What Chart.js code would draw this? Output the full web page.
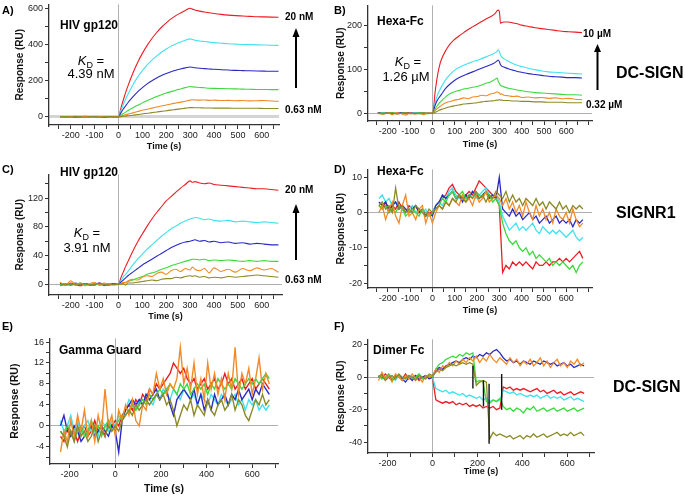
<!DOCTYPE html>
<html>
<head>
<meta charset="utf-8">
<script src="https://cdn.jsdelivr.net/npm/chart.js@4.4.1/dist/chart.umd.min.js"></script>
<style>
  html, body { margin: 0; padding: 0; background: #fff; }
  #wrap { position: relative; width: 685px; height: 497px; overflow: hidden; }
  #wrap canvas { position: absolute; }
  #notes { position: absolute; left: 0; top: 0; }
</style>
</head>
<body>
<div id="wrap">
<svg id="notes" width="685" height="497" font-family="'Liberation Sans', Arial, sans-serif" fill="#000">
  <g font-weight="bold" font-size="11">
    <text x="2" y="14">A)</text>
    <text x="334" y="14">B)</text>
    <text x="2" y="173">C)</text>
    <text x="334" y="173">D)</text>
    <text x="2" y="330">E)</text>
    <text x="334" y="330">F)</text>
  </g>
  <g font-weight="bold" font-size="12">
    <text x="60" y="29">HIV gp120</text>
    <text x="377" y="25">Hexa-Fc</text>
    <text x="60" y="176">HIV gp120</text>
    <text x="377" y="175">Hexa-Fc</text>
    <text x="59" y="354">Gamma Guard</text>
    <text x="373" y="354">Dimer Fc</text>
  </g>
  <g font-size="13" text-anchor="middle" style="white-space:pre">
    <text x="91" y="65"><tspan font-style="italic">K</tspan><tspan font-size="9" dy="3">D</tspan><tspan dy="-3"> =</tspan></text>
    <text x="91" y="78">4.39  nM</text>
    <text x="408" y="66"><tspan font-style="italic">K</tspan><tspan font-size="9" dy="3">D</tspan><tspan dy="-3"> =</tspan></text>
    <text x="406" y="81">1.26 µM</text>
    <text x="87" y="237"><tspan font-style="italic">K</tspan><tspan font-size="9" dy="3">D</tspan><tspan dy="-3"> =</tspan></text>
    <text x="87" y="252">3.91  nM</text>
  </g>
  <g font-weight="bold" font-size="10">
    <text x="285" y="20">20 nM</text>
    <text x="285" y="113">0.63 nM</text>
    <text x="583" y="37">10 µM</text>
    <text x="586" y="108">0.32 µM</text>
    <text x="285" y="193">20 nM</text>
    <text x="285" y="283">0.63 nM</text>
  </g>
  <g font-weight="bold" font-size="16">
    <text x="616" y="78">DC-SIGN</text>
    <text x="616" y="218">SIGNR1</text>
    <text x="613" y="392">DC-SIGN</text>
  </g>
  <g stroke="#000" stroke-width="2">
    <line x1="296" y1="88" x2="296" y2="36"/>
    <line x1="597.5" y1="90" x2="597.5" y2="51"/>
    <line x1="296" y1="260" x2="296" y2="212"/>
  </g>
  <polygon points="292.5,37 299.5,37 296,28"/>
  <polygon points="594,52 601,52 597.5,44"/>
  <polygon points="292.5,213 299.5,213 296,204"/>
</svg>
</div>
<script>
/* ––––– time axes ––––– */
const tAC = [-245,-220,-200,-180,-160,-140,-120,-100,-80,-60,-40,-20,0,
  10,20,30,40, 60,80,100,120,140,160,180,200,220,240,260,280,300,
  310,320, 340,360,380,400, 430,460,490,520,550,580,610,640,670];
const tB = [-245,-220,-200,-180,-160,-140,-120,-100,-80,-60,-40,-20,0,
  5,10,20,30,40, 60,80,100,120,140,160,180,200,220,240,260,280,
  290,295,300,305,310,320, 340,360,380,400, 430,460,490,520,550,580,610,640,670];
const tN = [-240,-225,-210,-195,-180,-165,-150,-135,-120,-105,-90,-75,-60,-45,-30,-15,
  0,15,30,45,60,75,90,105,120,135,150,165,180,195,210,225,240,255,270,285,
  300,315,330,345,360,375,390,405,420,435,450,465,480,495,510,525,540,555,570,585,600,
  615,630,645,660,675];

/* ––––– A) HIV gp120 on DC-SIGN ––––– */
const aRed    = [1,-2,2,0,-1,3,1,-1,2,0,-2,1,0, 48,93,135,172, 240,300,350,394,432,465,494,518,540,558,573,587,599, 594,589, 583,578,574,570, 565,561,558,556,554,552,551,550,549];
const aCyan   = [0,2,-1,1,3,0,-2,1,0,2,-1,0,0, 35,68,98,126, 176,219,255,287,313,336,356,374,390,402,413,422,430, 426,422, 418,415,412,409, 406,403,401,399,398,397,396,395,394];
const aBlue   = [2,0,1,-1,0,2,-1,1,0,-2,1,0,0, 22,43,61,79, 110,138,161,182,199,214,228,239,249,257,264,270,275, 273,271, 268,266,264,262, 260,258,256,255,254,253,252,251,251];
const aGreen  = [-1,1,0,2,-1,0,1,-1,0,1,0,-1,0, 9,18,26,35, 50,64,77,90,101,112,122,131,139,147,154,161,167, 165,164, 162,160,158,157, 156,155,154,153,152,151,151,150,150];
const aOrange = [0,-2,1,3,-1,2,0,-3,1,2,-1,1,0, 4,8,12,15, 22,29,36,42,48,54,60,65,71,76,81,86,92, 94,93, 92,93,91,92, 90,91,89,90,88,89,90,87,85];
const aOlive  = [1,0,-1,1,0,-2,1,0,-1,0,2,0,0, 1,3,4,6, 9,13,16,20,23,27,30,34,37,41,44,48,51, 51,50, 50,49,49,48, 48,48,47,47,47,47,46,46,46];

/* ––––– B) Hexa-Fc on DC-SIGN ––––– */
const bRed    = [1,0,2,-1,1,0,2,1,-1,0,1,0,0, 10,40,78,105,122, 143,158,168,176,183,190,196,202,208,214,219,226, 233,234,230,204,206,207, 207,205,203,200, 197,194,192,190,188,186,185,184,183];
const bCyan   = [0,1,-1,2,0,1,-1,0,2,-1,0,1,0, 5,20,38,50,60, 77,89,98,104,109,113,117,120,124,128,132,137, 141,144,140,132,128,124, 118,113,109,106, 102,99,96,94,93,92,91,90,89];
const bBlue   = [2,0,1,-1,0,2,-1,1,0,1,-1,0,0, 4,15,28,36,43, 57,67,75,81,86,90,94,98,102,106,110,115, 119,121,117,110,107,105, 101,98,95,93, 90,88,86,84,83,82,81,81,80];
const bGreen  = [-1,1,0,2,-1,0,1,-1,0,1,0,-1,0, 2,8,16,23,28, 38,45,49,52,55,57,59,61,64,68,71,77, 80,72,68,63,62,60, 57,55,53,51, 49,47,46,45,44,43,42,42,41];
const bOrange = [0,-2,1,-3,2,-1,-4,1,-2,0,-3,1,0, 1,5,10,14,18, 24,27,30,32,35,33,37,38,41,40,44,46, 49,47,46,43,44,41, 40,38,39,36, 37,35,36,34,35,33,34,32,31];
const bOlive  = [1,-1,0,1,-2,0,1,-1,0,-1,1,0,0, 0,2,4,7,9, 12,15,17,19,21,22,23,24,26,27,28,29, 30,30,31,30,30,29, 29,28,28,27, 27,26,26,25,25,25,24,24,24];

/* ––––– C) HIV gp120 on SIGNR1 ––––– */
const cRed    = [1,-1,2,0,-2,1,0,-1,2,0,-1,1,0, 9,17,25,32, 46,59,70,81,91,100,108,116,122,128,134,139,144, 142,143, 141,140,141,139, 138,137,136,135,134,133,133,132,131];
const cCyan   = [-2,0,1,-1,2,0,-1,1,0,-2,1,0,0, 5,10,14,18, 27,35,42,49,55,61,67,72,77,81,85,88,91, 92,93, 92,90,91,89, 88,89,87,88,87,86,87,86,85];
const cBlue   = [1,0,-1,2,0,1,-1,0,2,-1,0,1,0, 3,6,9,12, 17,22,27,31,35,39,43,47,51,54,57,59,60, 61,62, 60,61,59,60, 58,59,57,58,56,57,56,55,55];
const cGreen  = [0,1,-1,0,2,-1,0,1,-1,0,1,0,0, 1,2,3,4, 6,9,11,14,16,18,21,23,26,28,30,32,34, 35,35, 34,35,33,34, 33,34,33,32,33,32,33,32,32];
const cOrange = [3,-1,5,0,2,-2,1,3,-1,2,0,-1,0, 1,3,2,5, 7,6,10,12,11,15,17,14,19,21,18,22,20, 24,21, 19,22,16,23, 18,21,17,22,19,23,20,22,17];
const cOlive  = [-2,0,1,-1,0,1,-1,0,1,0,-1,0,0, 0,1,-1,2, 2,3,4,5,6,5,7,8,8,10,9,11,12, 11,12, 10,11,9,10, 9,11,10,11,12,13,12,11,10];

/* ––––– D) Hexa-Fc on SIGNR1 (tN) ––––– */
const dRed    = [2,1,3,0,2,1,3,1,0,2,1,2,0,1,-1,0, 0, 2,3,4,5,7,8,6,5,4,5,6,5,7,9,8,7,6,5,4, 2,
  -17,-15,-16,-14,-15,-14,-15,-14,-15,-16,-14,-15,-15,-14,-15,-14,-14,-13,-14,-13,-14,-13,-12,-11,-13];
const dCyan   = [4,5,3,4,2,3,1,2,0,1,2,0,1,0,1,-1, 0, 2,3,2,4,6,7,5,4,5,4,5,6,4,5,6,7,5,4,5, 3,
  -1,-3,-5,-4,-3,-5,-4,-5,-4,-3,-5,-6,-4,-5,-6,-5,-6,-5,-6,-7,-6,-5,-7,-8,-7];
const dBlue   = [3,2,3,1,2,3,1,2,1,0,1,2,0,1,-1,0, -1, 2,3,5,4,5,6,4,5,3,5,4,6,5,4,5,6,4,5,4, 10,
  1,0,-1,1,-1,0,-2,-1,0,-2,-1,-3,-2,-1,-3,-2,-1,-3,-2,-3,-2,-4,-2,-3,-2];
const dGreen  = [2,1,2,0,1,0,2,1,-1,0,1,0,-1,1,0,-1, 0, 1,2,4,3,5,6,4,5,6,4,5,4,6,5,4,6,5,3,4, 2,
  -3,-6,-8,-9,-8,-10,-11,-10,-12,-11,-13,-12,-13,-14,-13,-15,-14,-15,-14,-15,-16,-15,-17,-15,-14];
const dOrange = [0,2,-2,1,3,-1,-3,2,5,-1,0,-2,1,2,-3,0, -3, 0,2,1,3,2,4,3,2,5,3,4,2,5,3,4,6,3,4,5, 4,
  2,4,1,3,0,2,-1,3,0,-2,2,-1,1,-2,0,-3,1,-1,-2,0,-3,1,-2,-4,-3];
const dOlive  = [2,3,1,2,0,7,1,2,0,1,0,2,1,0,-1,1, 0, 1,2,1,3,2,4,3,5,4,3,5,4,6,4,5,3,5,4,6, 5,
  4,6,3,5,3,4,2,4,3,2,4,2,3,1,3,2,1,3,1,2,0,2,1,2,1];

/* ––––– E) Gamma Guard on DC-SIGN (tN) ––––– */
const eRed    = [-2,-3,0,-2,-1,-3,-1,0,-2,-1,1,-1,0,-2,1,0, 1, 0,2,3,4,3,5,4,6,5,7,6,8,7,8,9,10,12,11,10, 11,
  9,8,9,7,8,9,7,8,9,7,8,10,8,9,7,8,9,7,8,9,7,8,9,8,7];
const eBlue   = [0,2,-1,-2,0,-1,-3,-2,-1,0,-2,-1,0,-1,-2,0, -1, -5,1,3,4,5,4,5,4,6,5,6,7,5,6,7,4,2,5,6, 7,
  6,5,7,4,6,3,5,3,6,4,5,6,4,6,5,7,5,6,7,5,7,6,8,7,6];
const eCyan   = [1,-1,0,2,-1,1,-2,0,1,-1,0,-2,1,0,-1,1, 0, 2,1,3,5,4,3,5,4,6,5,4,6,5,7,6,5,7,6,5, 7,
  6,5,6,4,6,5,4,6,5,4,6,5,4,5,6,4,5,3,5,4,5,3,4,3,4];
const eGreen  = [-1,-2,0,-1,-3,-1,0,-2,-1,1,-1,0,-2,0,1,-1, 0, 1,2,2,3,4,3,4,5,4,6,5,6,7,6,7,8,7,6,8, 7,
  8,6,7,8,7,8,6,8,7,9,8,7,8,7,9,8,7,8,9,8,9,8,9,10,9];
const eOrange = [-5,-1,-3,1,-2,2,-1,3,-2,1,-3,2,-1,7,0,2, -2, 3,1,4,2,5,1,0,4,3,7,6,10,7,9,6,8,7,9,15, 8,
  11,7,12,6,9,5,12,7,10,6,9,5,10,7,15,6,10,8,11,6,9,13,7,10,8];
const eOlive  = [-1,-2,-4,-1,-3,0,-2,-1,-3,-2,0,-3,-1,-2,0,-1, 0, -1,1,2,3,2,4,3,4,5,4,5,6,5,6,4,5,3,0,2, 4,
  3,5,2,4,3,2,5,3,2,4,5,3,4,6,3,5,4,2,1,3,5,4,6,4,5];

/* ––––– F) Dimer Fc on DC-SIGN (tN) ––––– */
const fBlue   = [0,2,-1,1,-2,0,1,-1,-3,0,-2,1,-1,0,1,-1, 0, 4,6,5,7,8,9,10,9,11,12,11,13,12,14,13,15,14,16,17, 15,
  12,10,11,9,10,8,10,9,8,10,9,8,10,9,8,9,7,8,9,7,8,6,7,8,7];
const fOrange = [-2,3,-1,1,-3,2,0,-2,1,-1,2,-1,0,-3,1,0, 1, 5,3,7,6,9,7,10,8,11,9,12,10,13,9,12,10,14,11,9, 12,
  10,8,12,9,11,7,10,8,11,7,9,12,7,10,6,9,11,7,9,6,10,8,11,7,9];
const fGreen  = [1,-1,0,2,-1,0,1,-2,0,1,-1,0,2,-1,0,1, 0, 5,8,9,11,12,13,12,14,13,15,14,15,-3,-2,-3,-15,-16,-14,-15, -13,
  -18,-20,-19,-21,-19,-20,-22,-19,-20,-18,-21,-20,-19,-21,-20,-19,-21,-20,-19,-21,-20,-19,-21,-20,-19];
const fOlive  = [0,1,-2,0,1,-1,2,0,-1,1,0,-2,1,0,-1,2, 1, 3,5,4,6,7,8,7,8,9,8,9,8,-5,-3,-2,-3,-38,-34,-36, -35,
  -36,-37,-36,-38,-37,-36,-38,-36,-37,-35,-37,-36,-35,-37,-36,-35,-34,-36,-35,-36,-34,-36,-35,-34,-36];
const fRed    = [1,-1,2,0,-2,1,0,-1,2,-1,0,1,-2,0,1,-1, 0, -14,-15,-16,-15,-16,-15,-17,-16,-17,-16,-18,-17,-18,-17,-19,-18,-19,-18,-20, -19,
  -6,-7,-6,-8,-7,-8,-7,-8,-9,-8,-7,-9,-8,-10,-9,-8,-10,-9,-11,-10,-9,-11,-10,-9,-10];
const fCyan   = [0,1,-1,2,0,-2,1,0,-1,1,0,-1,2,0,-1,1, 0, -7,-8,-9,-8,-10,-9,-10,-11,-10,-12,-11,-12,-13,-12,-14,-13,-15,-14,-15, -14,
  -8,-9,-10,-9,-11,-10,-11,-12,-11,-12,-11,-13,-12,-11,-13,-12,-13,-12,-14,-13,-12,-14,-13,-14,-15];
// injection artefacts, drawn black
const fSpikeT = [180,180,181, 227,227,228, 252,252,253, 308,308];
const fSpikeY = [7,-7,null, -2,-18,null, -4,-41,null, -20,2];

/* ––––– styling ––––– */
const FONT = "'Liberation Sans', Arial, sans-serif";
const COLS = ['#8c8a24','#f28a26','#3bd93b','#2a2ac6','#40e2ef','#ec1c24'];  // olive, orange, green, blue, cyan, red

const panels = [
  {L:49, T:3,   R:279, B:125, xMin:-291, xMax:672, yMin:-45,  yMax:620,  xStep:50,  xLab:100, yStep:100, yLab:200,
   yTitleX:20,  xTitleY:147,   t:tAC, smooth:true,  zeroW:3, zeroC:'#d4d4d4', lw:1.1, xts:9, yts:10,
   series:[aOlive,aOrange,aGreen,aBlue,aCyan,aRed]},
  {L:368, T:4,  R:592, B:121, xMin:-289, xMax:715, yMin:-17.4, yMax:244.7, xStep:50, xLab:100, yStep:50, yLab:100,
   yTitleX:341, xTitleY:144.5, t:tB,  smooth:true,  zeroW:1, zeroC:'#b0b0b0', lw:1.1, xts:9, yts:10,
   series:[bOlive,bOrange,bGreen,bBlue,bCyan,bRed]},
  {L:49, T:173, R:282, B:295, xMin:-291, xMax:685, yMin:-14.8, yMax:153,  xStep:50,  xLab:100, yStep:20, yLab:40,
   yTitleX:20,  xTitleY:316.5, t:tAC, smooth:true,  zeroW:1, zeroC:'#b0b0b0', lw:1.1, xts:9, yts:10,
   series:[cOlive,cOrange,cGreen,cBlue,cCyan,cRed]},
  {L:368, T:168, R:592, B:288, xMin:-289, xMax:716, yMin:-21.4, yMax:12.25, xStep:50, xLab:100, yStep:5, yLab:10,
   yTitleX:341, xTitleY:311,   t:tN,  smooth:false, zeroW:1, zeroC:'#b0b0b0', lw:1.3, xts:9, yts:10,
   series:[dOlive,dOrange,dGreen,dBlue,dCyan,dRed]},
  {L:50, T:337, R:278, B:464, xMin:-286, xMax:713, yMin:-7.3, yMax:16.7,   xStep:100, xLab:200, yStep:2, yLab:4,
   yTitleX:15,  xTitleY:489.5, t:tN,  smooth:false, zeroW:1, zeroC:'#b0b0b0', lw:1.4, xts:10.5, yts:10.5,
   series:[eOlive,eOrange,eGreen,eBlue,eCyan,eRed]},
  {L:368, T:338, R:594, B:453, xMin:-287, xMax:719, yMin:-46.7, yMax:23.3, xStep:100, xLab:200, yStep:10, yLab:20,
   yTitleX:341, xTitleY:472,   t:tN,  smooth:false, zeroW:1, zeroC:'#b0b0b0', lw:1.3, xts:9, yts:10,
   series:[fOlive,fOrange,fGreen,fBlue,fCyan,fRed], spikes:[fSpikeT,fSpikeY]},
];

const wrap = document.getElementById('wrap');

// tick marks on round multiples of the step, whatever the axis ends are
const stepTicks = step => s => {
  const out = [];
  for (let v = Math.ceil(s.min / step) * step; v <= s.max + 1e-9; v += step) out.push({value: +v.toFixed(6)});
  s.ticks = out;
};

function drawPanel(p){
  const cx = Math.floor(p.yTitleX - 10), cy = p.T - 6;
  const cw = p.R + 6 - cx, ch = Math.ceil(p.xTitleY + 8) - cy;
  const c = document.createElement('canvas');
  c.width = cw; c.height = ch;
  Object.assign(c.style, {left: cx+'px', top: cy+'px', width: cw+'px', height: ch+'px'});
  wrap.insertBefore(c, wrap.firstChild);

  const isZero = ctx => ctx.tick && Math.abs(ctx.tick.value) < 1e-9;
  const label = (lab, top) => v => (Math.abs(v % lab) < 1e-6 && v <= top ? String(v) : '');

  const datasets = p.series.map((vals, k) => ({
    data: p.t.map((x, i) => ({x, y: vals[i]})),
    borderColor: COLS[k], borderWidth: p.lw, pointRadius: 0,
    tension: 0, cubicInterpolationMode: p.smooth ? 'monotone' : 'default'
  }));
  if (p.spikes){
    const [st, sy] = p.spikes;
    datasets.unshift({data: st.map((x, i) => ({x, y: sy[i]})),
      borderColor: '#111', borderWidth: 1.4, pointRadius: 0, spanGaps: false});
  }

  const axisFont = {family: FONT, size: 9};
  const xFont = {family: FONT, size: p.xts, weight: 'bold', lineHeight: 1.2};
  const yFont = {family: FONT, size: p.yts, weight: 'bold', lineHeight: 1.2};

  new Chart(c.getContext('2d'), {
    type: 'line',
    data: {datasets},
    options: {
      responsive: false, animation: false, events: [], devicePixelRatio: 1,
      layout: {autoPadding: false, padding: {left: 0, top: p.T - cy, right: cx + cw - p.R, bottom: 0}},
      plugins: {legend: {display: false}, tooltip: {enabled: false}},
      scales: {
        x: {
          type: 'linear', min: p.xMin, max: p.xMax,
          afterBuildTicks: stepTicks(p.xStep),
          afterFit: s => { s.height = cy + ch - p.B; },
          border: {display: true, color: '#333', width: 1.3},
          grid: {color: ctx => isZero(ctx) ? '#b0b0b0' : 'rgba(0,0,0,0)', lineWidth: 1,
                 tickColor: '#333', tickLength: 4, tickWidth: 1},
          ticks: {autoSkip: false, maxRotation: 0, minRotation: 0,
                  padding: 1, font: axisFont, color: '#222', callback: label(p.xLab, 600)},
          title: {display: true, text: 'Time (s)', font: xFont, color: '#111',
                  padding: {top: 0, bottom: cy + ch - p.xTitleY - p.xts * 0.6}}
        },
        y: {
          type: 'linear', min: p.yMin, max: p.yMax,
          afterBuildTicks: stepTicks(p.yStep),
          afterFit: s => { s.width = p.L - cx; },
          border: {display: true, color: '#333', width: 1.3},
          grid: {color: ctx => isZero(ctx) ? p.zeroC : 'rgba(0,0,0,0)',
                 lineWidth: ctx => isZero(ctx) ? p.zeroW : 1,
                 tickColor: '#333', tickLength: 4, tickWidth: 1},
          ticks: {autoSkip: false, padding: 2,
                  font: axisFont, color: '#222', callback: label(p.yLab, Infinity)},
          title: {display: true, text: 'Response (RU)', font: yFont, color: '#111',
                  padding: {top: p.yTitleX - cx - p.yts * 0.6, bottom: 0}}
        }
      }
    }
  });
}

panels.forEach(drawPanel);
</script>
</body>
</html>
